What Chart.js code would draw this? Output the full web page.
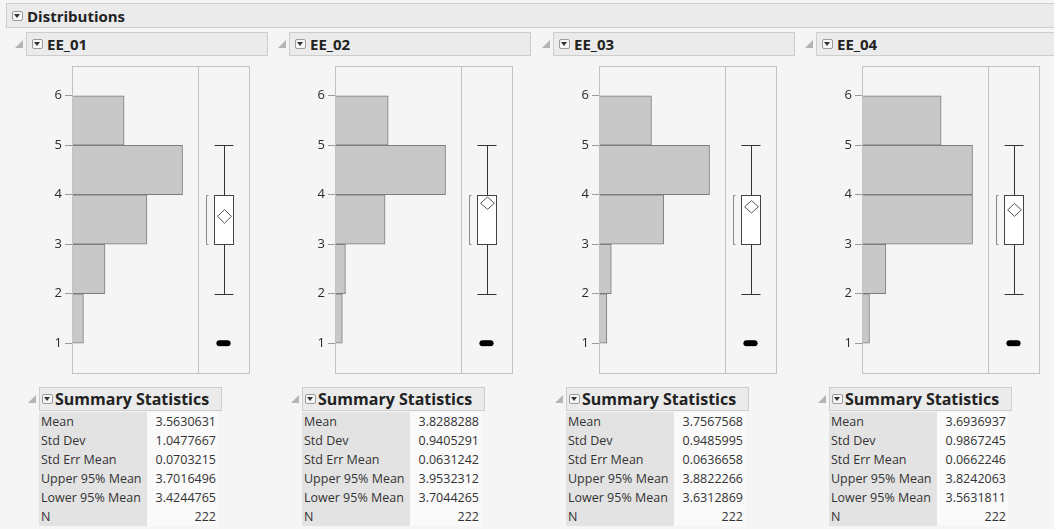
<!DOCTYPE html>
<html>
<head>
<meta charset="utf-8">
<script src="https://cdn.jsdelivr.net/npm/chart.js@4.4.0/dist/chart.umd.min.js"></script>
<style>
body { margin: 0; width: 1054px; height: 529px; background: #f5f5f5; font-family: "Open Sans", sans-serif; color: #222; overflow: hidden; position: relative; }
.hdr { position: absolute; background: #ebebeb; border: 1px solid #cdcdcd; box-sizing: border-box; font-weight: bold; font-size: 15px; display: flex; align-items: center; white-space: nowrap; }
.hdr.sum { font-size: 16px; }
.btn { display: inline-block; width: 9px; height: 8px; border: 1px solid #9a9a9a; border-radius: 2px; background: #f7f7f7; position: relative; margin: 0 4px 0 5px; }
.btn:after { content: ""; position: absolute; left: 1px; top: 2px; border-left: 3.5px solid transparent; border-right: 3.5px solid transparent; border-top: 4px solid #333; }
.sum .btn { margin: 0 2px 0 2px; }
.tri { position: absolute; width: 0; height: 0; border-left: 8px solid transparent; border-bottom: 8px solid #b4b4b4; }
canvas { position: absolute; }
table.stats { position: absolute; border-collapse: collapse; font-size: 12.5px; color: #333; }
table.stats td { height: 19px; padding: 0 2px; line-height: 19px; white-space: nowrap; }
table.stats td.lab { background: #e3e3e3; width: 104px; }
table.stats td.val { text-align: right; width: 67px; background: #fafafa; }
</style>
</head>
<body>
<div class="hdr" style="left:6px; top:3px; width:1060px; height:25px;"><span class="btn"></span>Distributions</div>
<script>
const variables = ['EE_01', 'EE_02', 'EE_03', 'EE_04'];
const binStarts = [1, 2, 3, 4, 5];
const tickValues = [1, 2, 3, 4, 5, 6];

// histogram counts per bin (1, 2, 3, 4, 5)
const counts01 = [9, 26, 59, 87, 41];
const counts02 = [7, 10, 48, 106, 51];
const counts03 = [7, 11, 58, 99, 47];
const counts04 = [5, 16, 74, 74, 53];

// lower whisker, q1, median, q3, upper whisker
const quantiles01 = [2, 3, 4, 4, 5];
const quantiles02 = [2, 3, 4, 4, 5];
const quantiles03 = [2, 3, 4, 4, 5];
const quantiles04 = [2, 3, 4, 4, 5];
const shortestHalf = [3, 4];
const outlierValue = 1;
const outlierJitter = [0.42, 0.46, 0.5, 0.54, 0.58];

const statLabels = ['Mean', 'Std Dev', 'Std Err Mean', 'Upper 95% Mean', 'Lower 95% Mean', 'N'];
const stats01 = [3.5630631, 1.0477667, 0.0703215, 3.7016496, 3.4244765, 222];
const stats02 = [3.8288288, 0.9405291, 0.0631242, 3.9532312, 3.7044265, 222];
const stats03 = [3.7567568, 0.9485995, 0.0636658, 3.8822266, 3.6312869, 222];
const stats04 = [3.6936937, 0.9867245, 0.0662246, 3.8242063, 3.5631811, 222];

const allCounts = [counts01, counts02, counts03, counts04];
const allQuantiles = [quantiles01, quantiles02, quantiles03, quantiles04];
const allStats = [stats01, stats02, stats03, stats04];

const panelX = [0, 263, 527, 790];
const font = 'Open Sans';

const frame = {
	id: 'frame',
	afterDraw(chart) {
		const {ctx, chartArea: a} = chart;
		ctx.save();
		ctx.strokeStyle = '#c2c2c2';
		ctx.lineWidth = 1;
		ctx.strokeRect(a.left + 0.5, a.top + 0.5, a.right - a.left, a.bottom - a.top);
		ctx.restore();
	}
};

const boxPlot = {
	id: 'boxPlot',
	afterDatasetsDraw(chart, args, opts) {
		const {ctx, scales: {x, y}} = chart;
		const [lo, q1, med, q3, hi] = opts.quantiles;
		const px = v => Math.round(x.getPixelForValue(v)) + 0.5;
		const py = v => Math.round(y.getPixelForValue(v)) + 0.5;
		const cx = px(0.5), l = px(0.5 - 0.196), r = px(0.5 + 0.196);
		ctx.save();
		ctx.lineWidth = 1;
		ctx.strokeStyle = '#333';
		ctx.beginPath();
		// whiskers and caps
		ctx.moveTo(cx, py(lo)); ctx.lineTo(cx, py(q1));
		ctx.moveTo(cx, py(q3)); ctx.lineTo(cx, py(hi));
		ctx.moveTo(l, py(lo)); ctx.lineTo(r, py(lo));
		ctx.moveTo(l, py(hi)); ctx.lineTo(r, py(hi));
		ctx.stroke();
		ctx.fillStyle = '#fff';
		ctx.fillRect(l, py(q3), r - l, py(q1) - py(q3));
		ctx.strokeStyle = '#444';
		ctx.strokeRect(l, py(q3), r - l, py(q1) - py(q3));
		ctx.beginPath();
		ctx.moveTo(l, py(med)); ctx.lineTo(r, py(med));
		ctx.stroke();
		// means diamond
		const dx = x.getPixelForValue(0.5 + 0.135) - x.getPixelForValue(0.5);
		const m = y.getPixelForValue(opts.mean);
		ctx.strokeStyle = '#555';
		ctx.beginPath();
		ctx.moveTo(cx, y.getPixelForValue(opts.upper));
		ctx.lineTo(cx + dx, m);
		ctx.lineTo(cx, y.getPixelForValue(opts.lower));
		ctx.lineTo(cx - dx, m);
		ctx.closePath();
		ctx.stroke();
		// shortest half bracket
		const b0 = px(0.15), b1 = px(0.2);
		ctx.strokeStyle = '#8a8a8a';
		ctx.beginPath();
		ctx.moveTo(b1, py(shortestHalf[1]));
		ctx.lineTo(b0, py(shortestHalf[1]));
		ctx.lineTo(b0, py(shortestHalf[0]));
		ctx.lineTo(b1, py(shortestHalf[0]));
		ctx.stroke();
		ctx.restore();
	}
};

function addEl(tag, cls, style, text) {
	const el = document.createElement(tag);
	if (cls) el.className = cls;
	el.setAttribute('style', style);
	if (text) el.textContent = text;
	document.body.appendChild(el);
	return el;
}

variables.forEach((name, i) => {
	const ox = panelX[i];
	const counts = allCounts[i];
	const stats = allStats[i];

	// panel header
	addEl('div', 'tri', `left:${ox + 15}px; top:40px;`);
	const h = addEl('div', 'hdr', `left:${ox + 26}px; top:32px; width:242px; height:24px;`);
	h.innerHTML = '<span class="btn"></span>';
	h.appendChild(document.createTextNode(name));

	// histogram
	const frameLeft = ox + 72, divider = ox + 198, right = ox + 249;
	const hc = addEl('canvas', '', `left:${frameLeft - 40}px; top:60px;`);
	hc.width = divider - frameLeft + 41;
	hc.height = 320;
	new Chart(hc, {
		type: 'bar',
		data: {
			datasets: [{
				data: binStarts.map((b, k) => ({y: b + 0.5, x: counts[k]})),
				backgroundColor: '#c8c8c8',
				borderColor: '#7c7c7c',
				borderWidth: 1,
				borderSkipped: false,
				barPercentage: 1,
				categoryPercentage: 1
			}]
		},
		options: {
			indexAxis: 'y',
			responsive: false,
			animation: false,
			layout: {autoPadding: false, padding: {top: 6, bottom: 7, right: 1, left: 0}},
			scales: {
				x: {display: false, min: 0, max: Math.max(...counts) * 1.14},
				y: {
					type: 'linear', min: 0.4, max: 6.6, offset: false,
					afterBuildTicks: s => { s.ticks = tickValues.map(v => ({value: v})); },
					afterFit: s => { s.width = 40; s.paddingTop = 0; s.paddingBottom = 0; },
					grid: {drawOnChartArea: false, offset: false, tickLength: 7, color: '#9a9a9a'},
					border: {display: false},
					ticks: {color: '#2a2a2a', padding: 3, font: {family: font, size: 13}}
				}
			},
			plugins: {legend: {display: false}, tooltip: {enabled: false}}
		},
		plugins: [frame]
	});

	// box plot
	const bc = addEl('canvas', '', `left:${divider}px; top:60px;`);
	bc.width = right - divider + 1;
	bc.height = 320;
	new Chart(bc, {
		type: 'scatter',
		data: {
			datasets: [{
				data: outlierJitter.map(x => ({x: x, y: outlierValue})),
				backgroundColor: '#000',
				borderWidth: 0,
				pointRadius: 3
			}]
		},
		options: {
			responsive: false,
			animation: false,
			layout: {autoPadding: false, padding: {top: 6, bottom: 7, right: 1, left: 0}},
			scales: {
				x: {display: false, min: 0, max: 1},
				y: {display: false, min: 0.4, max: 6.6}
			},
			plugins: {
				legend: {display: false},
				tooltip: {enabled: false},
				boxPlot: {quantiles: allQuantiles[i], mean: stats[0], upper: stats[3], lower: stats[4]}
			}
		},
		plugins: [boxPlot, frame]
	});

	// summary statistics
	addEl('div', 'tri', `left:${ox + 28}px; top:395px;`);
	const sh = addEl('div', 'hdr sum', `left:${ox + 39}px; top:387px; width:183px; height:24px;`);
	sh.innerHTML = '<span class="btn"></span>';
	sh.appendChild(document.createTextNode('Summary Statistics'));
	const t = addEl('table', 'stats', `left:${ox + 39}px; top:412px;`);
	statLabels.forEach((lab, k) => {
		const row = t.insertRow();
		const c1 = row.insertCell();
		c1.className = 'lab';
		c1.textContent = lab;
		const c2 = row.insertCell();
		c2.className = 'val';
		c2.textContent = k === 5 ? String(stats[k]) : stats[k].toFixed(7);
	});
});
</script>
</body>
</html>
